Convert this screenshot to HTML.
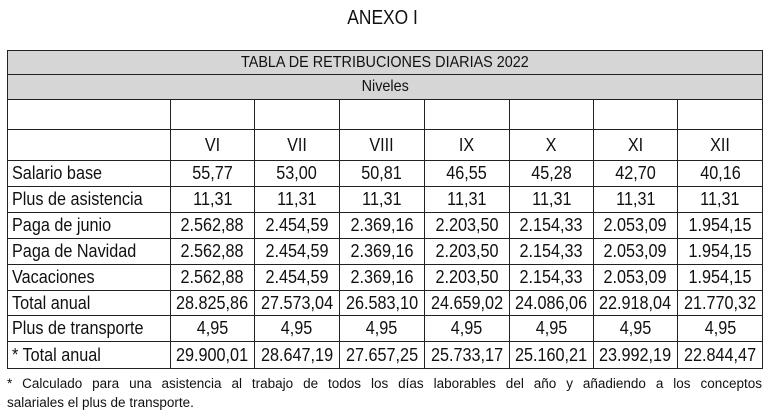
<!DOCTYPE html>
<html><head><meta charset="utf-8"><style>
body{margin:0;width:766px;height:415px;background:#fff;position:relative;overflow:hidden;font-family:"Liberation Sans",sans-serif;color:#111}
.t{position:absolute;left:0;width:766px;top:7px;text-align:center;font-size:20px}
.t span{display:inline-block;transform:scaleX(0.87)}
table{position:absolute;left:7px;top:50px;border-collapse:collapse;table-layout:fixed;width:755px}
td{border:1.5px solid #222;padding:0;font-size:18px;text-align:center;white-space:nowrap;overflow:visible}
td span{display:inline-block;transform:scaleX(0.9)}
td.l{text-align:left;padding-left:4px}
td.l span{transform-origin:left center}
.g{background:#d6d6d6;font-size:16px}
.f{position:absolute;left:7px;top:374px;width:755px;font-size:13.5px;line-height:19px}
.f1{text-align:justify;text-align-last:justify;white-space:nowrap}
</style></head><body>
<div class="t"><span>ANEXO I</span></div>
<table>
<colgroup><col style="width:163px"><col style="width:84px"><col style="width:85px"><col style="width:85px"><col style="width:85px"><col style="width:84px"><col style="width:84px"><col style="width:85px"></colgroup>
<tr style="height:24px"><td colspan="8" class="g"><span>TABLA DE RETRIBUCIONES DIARIAS 2022</span></td></tr>
<tr style="height:25px"><td colspan="8" class="g"><span>Niveles</span></td></tr>
<tr style="height:30px"><td></td><td></td><td></td><td></td><td></td><td></td><td></td><td></td></tr>
<tr style="height:31px"><td></td><td><span>VI</span></td><td><span>VII</span></td><td><span>VIII</span></td><td><span>IX</span></td><td><span>X</span></td><td><span>XI</span></td><td><span>XII</span></td></tr>
<tr style="height:26px"><td class="l"><span>Salario base</span></td><td><span>55,77</span></td><td><span>53,00</span></td><td><span>50,81</span></td><td><span>46,55</span></td><td><span>45,28</span></td><td><span>42,70</span></td><td><span>40,16</span></td></tr>
<tr style="height:26px"><td class="l"><span>Plus de asistencia</span></td><td><span>11,31</span></td><td><span>11,31</span></td><td><span>11,31</span></td><td><span>11,31</span></td><td><span>11,31</span></td><td><span>11,31</span></td><td><span>11,31</span></td></tr>
<tr style="height:26px"><td class="l"><span>Paga de junio</span></td><td><span>2.562,88</span></td><td><span>2.454,59</span></td><td><span>2.369,16</span></td><td><span>2.203,50</span></td><td><span>2.154,33</span></td><td><span>2.053,09</span></td><td><span>1.954,15</span></td></tr>
<tr style="height:26px"><td class="l"><span>Paga de Navidad</span></td><td><span>2.562,88</span></td><td><span>2.454,59</span></td><td><span>2.369,16</span></td><td><span>2.203,50</span></td><td><span>2.154,33</span></td><td><span>2.053,09</span></td><td><span>1.954,15</span></td></tr>
<tr style="height:26px"><td class="l"><span>Vacaciones</span></td><td><span>2.562,88</span></td><td><span>2.454,59</span></td><td><span>2.369,16</span></td><td><span>2.203,50</span></td><td><span>2.154,33</span></td><td><span>2.053,09</span></td><td><span>1.954,15</span></td></tr>
<tr style="height:25px"><td class="l"><span>Total anual</span></td><td><span>28.825,86</span></td><td><span>27.573,04</span></td><td><span>26.583,10</span></td><td><span>24.659,02</span></td><td><span>24.086,06</span></td><td><span>22.918,04</span></td><td><span>21.770,32</span></td></tr>
<tr style="height:26px"><td class="l"><span>Plus de transporte</span></td><td><span>4,95</span></td><td><span>4,95</span></td><td><span>4,95</span></td><td><span>4,95</span></td><td><span>4,95</span></td><td><span>4,95</span></td><td><span>4,95</span></td></tr>
<tr style="height:27px"><td class="l"><span>* Total anual</span></td><td><span>29.900,01</span></td><td><span>28.647,19</span></td><td><span>27.657,25</span></td><td><span>25.733,17</span></td><td><span>25.160,21</span></td><td><span>23.992,19</span></td><td><span>22.844,47</span></td></tr>
</table>
<div class="f"><div class="f1">* Calculado para una asistencia al trabajo de todos los días laborables del año y añadiendo a los conceptos</div><div>salariales el plus de transporte.</div></div>
</body></html>
